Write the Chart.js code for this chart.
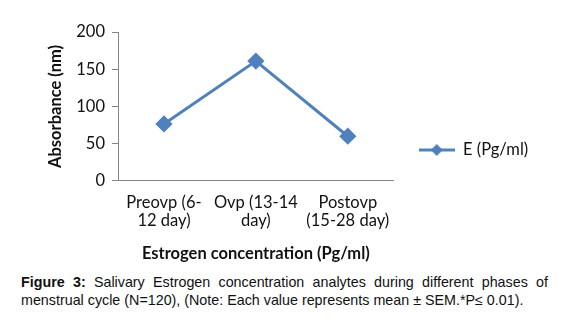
<!DOCTYPE html>
<html>
<head>
<meta charset="utf-8">
<script src="https://cdn.jsdelivr.net/npm/chart.js@4/dist/chart.umd.min.js"></script>
<style>
  body{ margin:0; background:#fff; width:568px; height:326px; overflow:hidden; }
  #wrap{ position:relative; width:568px; height:264px; }
  #caption{
    width:527px; margin-left:21px; margin-top:9px;
    font-family:"Liberation Sans", Arial, sans-serif; font-size:14.3px; line-height:18px;
    color:#111; text-align:justify; text-align-last:left;
  }
</style>
</head>
<body>
<div id="wrap"><canvas id="canvas"></canvas></div>
<div id="caption"><b>Figure 3:</b> Salivary Estrogen concentration analytes during different phases of menstrual cycle (N=120), (Note: Each value represents mean ± SEM.*P≤ 0.01).</div>

<script>
// data
var phases = [['Preovp (6-', '12 day)'], ['Ovp (13-14', 'day)'], ['Postovp', '(15-28 day)']];
var estrogen = [76.5, 161, 60];
var seriesName = 'E (Pg/ml)';
var yTicks = [0, 50, 100, 150, 200];

var blue = '#4F81BD';
var axisGrey = '#868686';
var font = 'Lato';
var fsize = 16.5;

// little line + diamond picture for the legend
function legendIcon(){
  var c = document.createElement('canvas');
  c.width = 36; c.height = 14;
  var g = c.getContext('2d');
  g.strokeStyle = blue; g.lineWidth = 3;
  g.beginPath(); g.moveTo(0, 7); g.lineTo(36, 7); g.stroke();
  g.fillStyle = blue;
  g.beginPath(); g.moveTo(12, 7); g.lineTo(18, 1); g.lineTo(24, 7); g.lineTo(18, 13); g.closePath(); g.fill();
  return c;
}

var config = {
  type: 'line',
  data: {
    labels: phases,
    datasets: [{
      label: seriesName,
      data: estrogen,
      borderColor: blue,
      backgroundColor: blue,
      borderWidth: 3,
      pointStyle: 'rectRot',
      pointRadius: 6.5,
      pointHoverRadius: 6.5,
      pointBackgroundColor: blue,
      pointBorderColor: blue,
      tension: 0
    }]
  },
  options: {
    responsive: true,
    maintainAspectRatio: false,
    animation: false,
    layout: { padding: { left: 42, right: 57, top: 32, bottom: 0 } },
    plugins: {
      tooltip: { enabled: false },
      legend: {
        position: 'right',
        labels: {
          usePointStyle: true,
          pointStyleWidth: 36,
          padding: 20,
          color: '#111',
          font: { family: font, size: fsize },
          generateLabels: function(chart){
            return chart.data.datasets.map(function(ds, i){
              return { text: ds.label, pointStyle: legendIcon(), fillStyle: blue, strokeStyle: blue, lineWidth: 0, datasetIndex: i, fontColor: '#111' };
            });
          }
        }
      }
    },
    scales: {
      x: {
        offset: true,
        grid: { display: false, drawTicks: false },
        border: { display: true, color: axisGrey, width: 1 },
        ticks: { color: '#111', font: { family: font, size: fsize, lineHeight: 1.1 }, padding: 13, maxRotation: 0, autoSkip: false },
        title: { display: true, text: 'Estrogen concentration (Pg/ml)', color: '#111', font: { family: font, size: fsize, weight: 'bold' }, padding: { top: 1, bottom: 0 } }
      },
      y: {
        min: 0, max: 200,
        afterBuildTicks: function(scale){ scale.ticks = yTicks.map(function(v){ return { value: v }; }); },
        afterFit: function(scale){ scale.width = 76; },
        grid: { display: true, drawOnChartArea: false, drawTicks: true, tickLength: 6, color: axisGrey },
        border: { display: true, color: axisGrey, width: 1 },
        ticks: { color: '#111', font: { family: font, size: fsize }, padding: 7 },
        title: { display: true, text: 'Absorbance (nm)', color: '#111', font: { family: font, size: fsize, weight: 'bold' }, padding: { top: 4, bottom: 4 } }
      }
    }
  },
  plugins: [{
    id: 'legendPlace',
    afterLayout: function(chart){
      // the legend sits a bit right of the plot and lower than its middle
      var lg = chart.legend;
      var w = lg.width, h = lg.height;
      lg.left = chart.chartArea.right + 5; lg.right = lg.left + w + 30;
      lg.width = lg.right - lg.left;
      lg.top = 150 - h / 2; lg.bottom = lg.top + h;
    }
  }]
};

var ctx = document.getElementById('canvas').getContext('2d');
window.myLine = new Chart(ctx, config);
</script>
</body>
</html>
